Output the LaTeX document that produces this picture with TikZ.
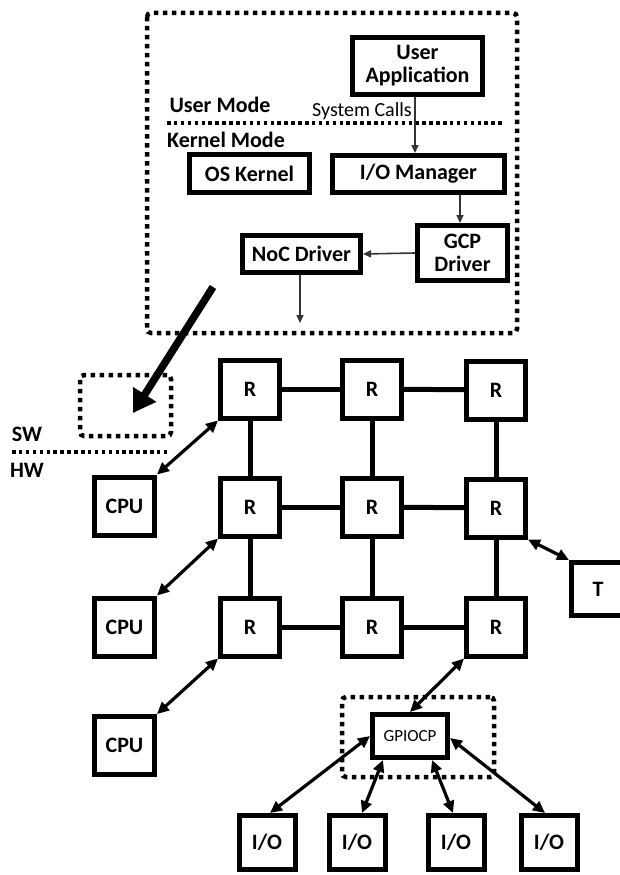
\documentclass[tikz,border=0pt]{standalone}
\usepackage{fontspec}
\setmainfont{Carlito}
\usetikzlibrary{positioning, arrows.meta}
\tikzset{
    osbox/.style={rectangle, draw=black, line width=5pt, align=center, font=\fontsize{22}{23}\selectfont\bfseries, inner sep=1pt},
    hwbox/.style={rectangle, draw=black, line width=5pt, minimum width=59pt, minimum height=58pt, align=center, font=\fontsize{22}{23}\selectfont\bfseries},
    gpbox/.style={rectangle, draw=black, line width=5pt, minimum width=75pt, minimum height=43pt, align=center, font=\fontsize{17}{19}\selectfont},
    dotbox/.style={draw=black, line width=4.5pt, dash pattern=on 4.5pt off 4.5pt, rounded corners=4pt},
    dotsep/.style={draw=black, line width=3.5pt, dash pattern=on 3.5pt off 3.4pt},
    modelbl/.style={font=\fontsize{22}{23}\selectfont\bfseries, inner sep=0pt},
    calllbl/.style={font=\fontsize{20}{21}\selectfont, inner sep=0pt},
    link/.style={line width=5pt},
    arrthin/.style={-{Triangle[length=8pt,width=7pt]}, line width=1.6pt, color=black!80},
    arrbi/.style={{Triangle[length=12pt,width=11pt]}-{Triangle[length=12pt,width=11pt]}, line width=3.2pt},
    arrbig/.style={-{Triangle[length=22pt,width=26pt]}, line width=7.5pt}
}

\begin{document}
\begin{tikzpicture}[x=1pt, y=-1pt]
    \useasboundingbox (0,0) rectangle (620,875);

    % software side
    \draw[dotbox] (147,13) rectangle (517,333);
    \coordinate (sepl) at (167,123);
    \coordinate (sepr) at (505,123);
    \draw[dotsep] (sepl) -- (sepr);
    \node[modelbl] (umode) at (220,105) {User Mode};
    \node[modelbl] (kmode) at (226,140) {Kernel Mode};
    \node[calllbl] (calls) at (362,111) {System Calls};

    \node[osbox, minimum width=130pt, minimum height=57pt] (app) at (417.5,66) {User\\Application};
    \node[osbox, minimum width=120pt, minimum height=38pt] (kern) at (249.5,173.5) {OS Kernel};
    \node[osbox, minimum width=172pt, minimum height=37pt] (iom) at (418.5,174) {I/O Manager};
    \node[osbox, minimum width=90pt, minimum height=55pt] (gcp) at (462.5,253) {GCP\\Driver};
    \node[osbox, minimum width=118pt, minimum height=37pt] (noc) at (301.5,254) {NoC Driver};
    \coordinate (nocout) at (300,323);

    \draw[arrthin] (app.south -| 415,0) -- (iom.north -| 415,0);
    \draw[arrthin] (iom.south -| 460,0) -- (gcp.north -| 460,0);
    \draw[arrthin] (gcp.west) -- (noc.east);
    \draw[arrthin] (noc.south -| nocout) -- (nocout);

    % sw / hw boundary
    \node[dotbox, minimum width=91pt, minimum height=61pt, inner sep=0pt] (swbox) at (125.5,405.5) {};
    \coordinate (bigfrom) at (213,287);
    \coordinate (bigto) at (133,413);
    \draw[arrbig] (bigfrom) -- (bigto);
    \node[modelbl] (sw) at (27,434) {SW};
    \node[modelbl] (hw) at (27,470) {HW};
    \coordinate (bndl) at (12,452);
    \coordinate (bndr) at (167,452);
    \draw[dotsep] (bndl) -- (bndr);

    % routers
    \node[hwbox] (r11) at (250,389) {R};
    \node[hwbox] (r12) at (372,389) {R};
    \node[hwbox] (r13) at (496,390) {R};
    \node[hwbox] (r21) at (250,507) {R};
    \node[hwbox] (r22) at (372,507) {R};
    \node[hwbox] (r23) at (496,508) {R};
    \node[hwbox] (r31) at (250,627) {R};
    \node[hwbox] (r32) at (372,627) {R};
    \node[hwbox] (r33) at (496,627) {R};

    \draw[link] (r11) -- (r12);
    \draw[link] (r12) -- (r13);
    \draw[link] (r21) -- (r22);
    \draw[link] (r22) -- (r23);
    \draw[link] (r31) -- (r32);
    \draw[link] (r32) -- (r33);
    \draw[link] (r11) -- (r21);
    \draw[link] (r21) -- (r31);
    \draw[link] (r12) -- (r22);
    \draw[link] (r22) -- (r32);
    \draw[link] (r13) -- (r23);
    \draw[link] (r23) -- (r33);

    % cores and target
    \node[hwbox, minimum width=60pt] (cpu1) at (124.5,506) {CPU};
    \node[hwbox, minimum width=60pt] (cpu2) at (124.5,627) {CPU};
    \node[hwbox, minimum width=60pt] (cpu3) at (124.5,745.5) {CPU};
    \node[hwbox, minimum width=53pt, minimum height=53pt] (tgt) at (598,589) {T};

    \draw[arrbi] (cpu1.north east) -- (r11.south west);
    \draw[arrbi] (cpu2.north east) -- (r21.south west);
    \draw[arrbi] (cpu3.north east) -- (r31.south west);
    \draw[arrbi] (r23.south east) -- (tgt.north west);

    % gpio controller
    \node[dotbox, minimum width=152pt, minimum height=80pt, inner sep=0pt] (gpzone) at (418,737) {};
    \node[gpbox] (gpio) at (410,736) {GPIOCP};
    \draw[arrbi] (r33.south west) -- (gpio.north);

    \node[hwbox, minimum width=56pt, minimum height=54pt] (io1) at (267,842.5) {I/O};
    \node[hwbox, minimum width=56pt, minimum height=54pt] (io2) at (357,842.5) {I/O};
    \node[hwbox, minimum width=56pt, minimum height=54pt] (io3) at (456,842.5) {I/O};
    \node[hwbox, minimum width=56pt, minimum height=54pt] (io4) at (549,842.5) {I/O};

    \draw[arrbi] (gpio.west) -- ([xshift=3pt]io1.north);
    \draw[arrbi] ([xshift=-27pt]gpio.south) -- ([xshift=5pt]io2.north);
    \draw[arrbi] ([xshift=22pt]gpio.south) -- ([xshift=-3pt]io3.north);
    \draw[arrbi] ([yshift=-2pt]gpio.east) -- ([xshift=-4pt]io4.north);
\end{tikzpicture}
\end{document}
